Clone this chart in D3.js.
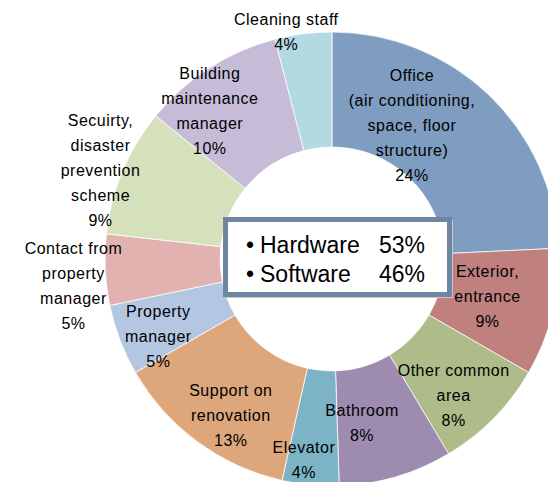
<!DOCTYPE html>
<html>
<head>
<meta charset="utf-8">
<script src="https://cdn.jsdelivr.net/npm/d3@7"></script>
<style>
  html, body { margin: 0; padding: 0; background: #fff; }
  svg { display: block; }
  text { font-family: "Liberation Sans", Arial, sans-serif; fill: #000; }
</style>
</head>
<body>
<div id="chart"></div>
<script>
// slices, clockwise from 12 o'clock
var categories = [
  ["Office", "(air conditioning,", "space, floor", "structure)"],
  ["Exterior,", "entrance"],
  ["Other common", "area"],
  ["Bathroom"],
  ["Elevator"],
  ["Support on", "renovation"],
  ["Property", "manager"],
  ["Contact from", "property", "manager"],
  ["Secuirty,", "disaster", "prevention", "scheme"],
  ["Building", "maintenance", "manager"],
  ["Cleaning staff"]
]
var shares = [24, 9, 8, 8, 4, 13, 5, 5, 9, 10, 4]
var colors = ["#7f9dc1", "#c0807e", "#adbc89", "#9d8cb0", "#7cb4c6", "#dea77b",
              "#b3c7e2", "#e2b2b1", "#d5e1bb", "#c6bcd8", "#b3d9e3"]

var legendNames  = ["Hardware", "Software"]
var legendShares = [53, 46]

// label placement: [angle nudge in degrees, distance from centre]
var labelPlace = [[-12.8, 156], [0, 160], [3.8, 183], [6, 167], [2.5, 203], [-3.4, 186],
                  [-3, 190], [-3.3, 260], [-1.7, 248], [-6.8, 192], [-4.1, 232]]

var width = 548, height = 482
var cx = 332, cy = 259
var rOuter = 227, rInner = 112
var lineGap = 25

var svg = d3.select("#chart").append("svg")
  .attr("width", width)
  .attr("height", height)

var g = svg.append("g")
  .attr("transform", "translate(" + cx + "," + cy + ")")

var pie = d3.pie().sort(null).value(function (d) { return d })
var arc = d3.arc().innerRadius(rInner).outerRadius(rOuter)
var arcs = pie(shares)

g.selectAll("path.slice")
  .data(arcs)
  .enter().append("path")
  .attr("class", "slice")
  .attr("d", arc)
  .attr("fill", function (d, i) { return colors[i] })
  .attr("stroke", "#fff")
  .attr("stroke-width", 0.75)

// data labels
var labels = g.selectAll("text.lbl")
  .data(arcs)
  .enter().append("text")
  .attr("class", "lbl")
  .attr("text-anchor", "middle")
  .style("font-size", "16px")
  .style("letter-spacing", "0.5px")
  .each(function (d, i) {
    var mid = (d.startAngle + d.endAngle) / 2 + labelPlace[i][0] * Math.PI / 180
    var r = labelPlace[i][1]
    var x = r * Math.sin(mid)
    var y = -r * Math.cos(mid)
    var lines = categories[i].concat([shares[i] + "%"])
    var top = y - (lines.length - 1) * lineGap / 2
    var t = d3.select(this)
    lines.forEach(function (s, k) {
      t.append("tspan")
        .attr("x", x)
        .attr("y", top + k * lineGap)
        .attr("dy", "0.35em")
        .text(s)
    })
  })

// legend box in the hole
var box = { x: 225.5, y: 219.5, w: 224, h: 75 }
svg.append("rect")
  .attr("x", box.x + 2)
  .attr("y", box.y + 2)
  .attr("width", box.w)
  .attr("height", box.h)
  .attr("fill", "none")
  .attr("stroke", "#c9c9c9")
  .attr("stroke-width", 3)
svg.append("rect")
  .attr("x", box.x)
  .attr("y", box.y)
  .attr("width", box.w)
  .attr("height", box.h)
  .attr("fill", "#fff")
  .attr("stroke", "#6f86a3")
  .attr("stroke-width", 5)

var leg = svg.selectAll("g.leg")
  .data(legendNames)
  .enter().append("g")
  .attr("class", "leg")
  .attr("transform", function (d, i) { return "translate(0," + (253 + i * 29) + ")" })

leg.append("text")
  .attr("x", 250).attr("text-anchor", "middle")
  .style("font-size", "23px")
  .text("\u2022")
leg.append("text")
  .attr("x", 260)
  .style("font-size", "23px")
  .text(function (d) { return d })
leg.append("text")
  .attr("x", 379)
  .style("font-size", "23px")
  .text(function (d, i) { return legendShares[i] + "%" })
</script>
</body>
</html>
